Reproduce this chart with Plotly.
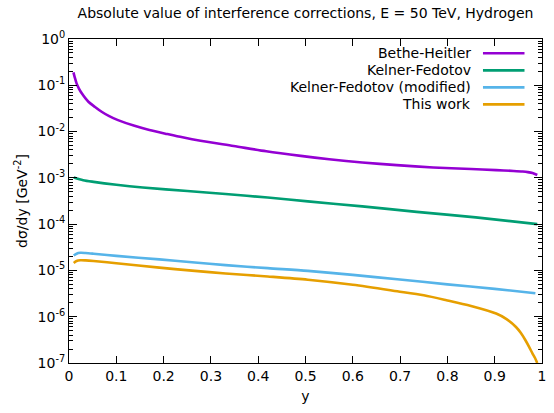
import plotly.graph_objects as go

# ---- data ----
names = ["Bethe-Heitler", "Kelner-Fedotov", "Kelner-Fedotov (modified)", "This work"]
colors = ["#9400d3", "#009e73", "#56b4e9", "#e69f00"]

x_bh = [0.0094, 0.012, 0.016, 0.021, 0.027, 0.041, 0.055, 0.069, 0.085, 0.1036, 0.1385, 0.17,
        0.208, 0.24, 0.278, 0.348, 0.417, 0.49, 0.55, 0.62, 0.693, 0.77, 0.85, 0.903, 0.94,
        0.959, 0.97, 0.98, 0.99]
y_bh = [0.19, 0.15, 0.11, 0.085, 0.067, 0.044, 0.034, 0.0268, 0.0215, 0.0177, 0.0133, 0.0108,
        0.00883, 0.0075, 0.00632, 0.00487, 0.00375, 0.00298, 0.00252, 0.00215, 0.00188, 0.00168,
        0.00155, 0.00147, 0.00141, 0.00137, 0.00133, 0.00127, 0.00115]

x_kf = [0.010, 0.03, 0.052, 0.1, 0.156, 0.25, 0.331, 0.42, 0.505, 0.62, 0.735, 0.86, 0.99]
y_kf = [0.00102, 0.00089, 0.00082, 0.00071, 0.00062, 0.00052, 0.000447, 0.000375, 0.000310,
        0.000242, 0.000184, 0.000140, 0.000100]

x_kfm = [0.010, 0.016, 0.024, 0.035, 0.052, 0.1, 0.191, 0.26, 0.331, 0.42, 0.505, 0.6, 0.694,
         0.8, 0.9, 0.986]
y_kfm = [2.1e-5, 2.3e-5, 2.4e-5, 2.38e-5, 2.3e-5, 2.06e-5, 1.73e-5, 1.5e-5, 1.30e-5, 1.12e-5,
         9.8e-6, 8.0e-6, 6.45e-6, 5.0e-6, 4.0e-6, 3.2e-6]

x_tw = [0.010, 0.016, 0.024, 0.035, 0.052, 0.1, 0.191, 0.26, 0.331, 0.42, 0.505, 0.6, 0.694,
        0.75, 0.798, 0.85, 0.903, 0.925, 0.945, 0.955, 0.965, 0.973, 0.98, 0.985, 0.99]
y_tw = [1.45e-5, 1.6e-5, 1.66e-5, 1.65e-5, 1.6e-5, 1.43e-5, 1.15e-5, 9.9e-6, 8.6e-6, 7.4e-6,
        6.3e-6, 4.9e-6, 3.55e-6, 2.9e-6, 2.27e-6, 1.7e-6, 1.17e-6, 8.9e-7, 6.0e-7, 4.5e-7,
        3.1e-7, 2.2e-7, 1.6e-7, 1.3e-7, 1.0e-7]

xs = [x_bh, x_kf, x_kfm, x_tw]
ys = [y_bh, y_kf, y_kfm, y_tw]

y_exps = [0, -1, -2, -3, -4, -5, -6, -7]
y_tickvals = [10.0 ** e for e in y_exps]
y_ticktext = ["10<sup>%d</sup>" % e for e in y_exps]
y_minor = [k * 10.0 ** e for e in range(-7, 0) for k in range(2, 10)]

title_text = "Absolute value of interference corrections, E = 50 TeV, Hydrogen"
xlabel = "y"
ylabel = "dσ/dy [GeV<sup>-2</sup>]"

FONT = "DejaVu Sans"
FS = 14

fig = go.Figure()
for n, c, xv, yv in zip(names, colors, xs, ys):
    fig.add_trace(go.Scatter(x=xv, y=yv, mode="lines", name=n,
                             line=dict(color=c, width=2.6, shape="spline", smoothing=0.8),
                             showlegend=False))

# gnuplot-style key: text right-aligned, line sample on the right
row0 = 0.9558
dy = 0.0525
for i, (n, c) in enumerate(zip(names, colors)):
    yy = row0 - i * dy
    fig.add_annotation(x=0.8536, y=yy, xref="paper", yref="paper", text=n,
                       showarrow=False, xanchor="right", yanchor="middle",
                       font=dict(family=FONT, size=FS, color="#000"))
    fig.add_shape(type="line", xref="paper", yref="paper", x0=0.8752, x1=0.963, y0=yy, y1=yy,
                  line=dict(color=c, width=2.6))

fig.update_layout(
    width=554, height=413,
    margin=dict(l=68.5, r=7.3, t=39, b=50.3),
    paper_bgcolor="white", plot_bgcolor="white",
    font=dict(family=FONT, size=FS, color="#000"),
    title=dict(text=title_text, x=0.5, xref="paper", xanchor="center",
               y=1 - 13.5 / 413, yanchor="middle", font=dict(family=FONT, size=FS)),
    xaxis=dict(range=[0, 1], dtick=0.1, tick0=0, showgrid=False, zeroline=False,
               showline=True, linecolor="#000", linewidth=1, mirror="ticks",
               ticks="inside", ticklen=7, tickcolor="#000",
               title=dict(text=xlabel, standoff=8, font=dict(family=FONT, size=FS))),
    yaxis=dict(type="log", range=[-7, 0], tickmode="array", tickvals=y_tickvals,
               ticktext=y_ticktext, showgrid=False, zeroline=False,
               showline=True, linecolor="#000", linewidth=1, mirror="ticks",
               ticks="inside", ticklen=8, tickcolor="#000",
               minor=dict(tickmode="array", tickvals=y_minor, ticks="inside", ticklen=4,
                          tickcolor="#000", showgrid=False),
               title=dict(text=ylabel, standoff=6, font=dict(family=FONT, size=FS))),
)

fig.write_html("out.html")
